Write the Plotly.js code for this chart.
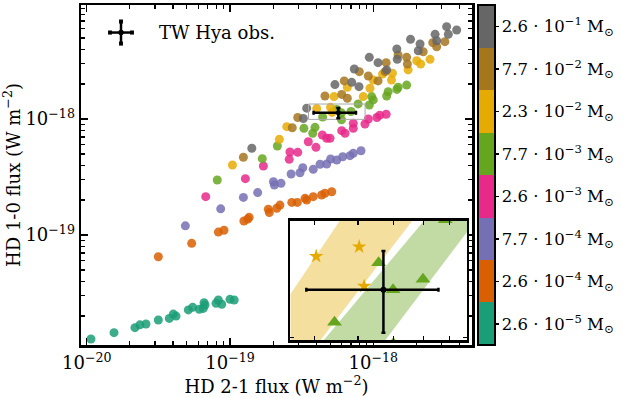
<!DOCTYPE html>
<html>
<head>
<meta charset="utf-8">
<script src="https://cdn.plot.ly/plotly-3.0.1.min.js"></script>
<style>
  html, body { margin: 0; padding: 0; background: white; }
  #myDiv { width: 623px; height: 398px; }
</style>
</head>
<body>
<div id="myDiv"></div>
<script>
// HD 2-1 (x) and HD 1-0 (y) fluxes in W m^-2, one series per disk gas mass
var tealX = [1.07e-20, 1.55e-20, 2.17e-20, 2.35e-20, 2.59e-20, 3.16e-20, 3.77e-20, 4.02e-20, 4.20e-20, 5.12e-20, 5.49e-20, 6.11e-20, 6.51e-20, 6.59e-20, 6.69e-20, 7.99e-20, 8.29e-20, 8.75e-20, 1.00e-19, 1.07e-19];
var tealY = [1.27e-20, 1.44e-20, 1.59e-20, 1.68e-20, 1.71e-20, 1.85e-20, 1.91e-20, 2.08e-20, 2.00e-20, 2.26e-20, 2.38e-20, 2.29e-20, 2.33e-20, 2.61e-20, 2.49e-20, 2.58e-20, 2.75e-20, 2.53e-20, 2.79e-20, 2.75e-20];

var orangeX = [3.16e-20, 5.40e-20, 8.29e-20, 9.08e-20, 1.25e-19, 1.33e-19, 1.36e-19, 1.85e-19, 1.88e-19, 2.12e-19, 2.23e-19, 2.70e-19, 2.95e-19, 3.34e-19, 3.43e-19, 3.81e-19, 4.36e-19, 4.60e-19, 5.13e-19];
var orangeY = [6.50e-20, 8.48e-20, 1.06e-19, 1.10e-19, 1.32e-19, 1.37e-19, 1.42e-19, 1.67e-19, 1.56e-19, 1.70e-19, 1.81e-19, 1.91e-19, 1.91e-19, 2.07e-19, 2.00e-19, 2.14e-19, 2.21e-19, 2.29e-19, 2.36e-19];

var purpleX = [4.88e-20, 8.61e-20, 1.24e-19, 1.56e-19, 2.01e-19, 2.04e-19, 2.27e-19, 2.67e-19, 3.08e-19, 3.22e-19, 3.81e-19, 4.25e-19, 4.73e-19, 5.04e-19, 5.56e-19, 6.12e-19, 6.88e-19, 7.25e-19, 8.21e-19];
var purpleY = [1.20e-19, 1.68e-19, 2.11e-19, 2.32e-19, 2.88e-19, 2.70e-19, 2.79e-19, 3.36e-19, 3.44e-19, 3.80e-19, 3.68e-19, 4.07e-19, 4.09e-19, 4.52e-19, 4.43e-19, 4.73e-19, 4.83e-19, 5.06e-19, 5.33e-19];

var pinkX = [6.77e-20, 1.28e-19, 1.71e-19, 2.59e-19, 2.62e-19, 2.97e-19, 3.52e-19, 3.98e-19, 4.41e-19, 4.73e-19, 4.99e-19, 6.02e-19, 6.35e-19, 7.25e-19, 7.25e-19, 8.75e-19, 9.23e-19, 1.06e-18, 1.11e-18, 1.23e-18];
var pinkY = [2.14e-19, 3.06e-19, 3.93e-19, 4.49e-19, 5.19e-19, 5.16e-19, 6.37e-19, 5.70e-19, 7.28e-19, 6.82e-19, 6.82e-19, 7.93e-19, 7.53e-19, 8.31e-19, 9.18e-19, 9.05e-19, 1.00e-18, 1.03e-18, 1.08e-18, 1.10e-18];

var greenX = [8.15e-20, 1.68e-19, 2.14e-19, 3.28e-19, 3.78e-19, 3.92e-19, 4.43e-19, 5.56e-19, 5.99e-19, 6.00e-19, 6.99e-19, 7.84e-19, 9.38e-19, 9.74e-19, 1.00e-18, 1.24e-18, 1.27e-18, 1.46e-18, 1.49e-18, 1.71e-18];
var greenY = [2.98e-19, 4.55e-19, 5.85e-19, 8.31e-19, 7.53e-19, 8.48e-19, 1.04e-18, 1.21e-18, 1.13e-18, 9.85e-19, 1.16e-18, 1.35e-18, 1.32e-18, 1.56e-18, 1.46e-18, 1.58e-18, 1.72e-18, 1.80e-18, 1.88e-18, 1.96e-18];

var yellowX = [1.04e-19, 2.21e-19, 2.49e-19, 4.03e-19, 5.03e-19, 5.16e-19, 5.32e-19, 6.59e-19, 8.51e-19, 9.48e-19, 1.00e-18, 1.16e-18, 1.34e-18, 1.36e-18, 1.75e-18, 2.01e-18, 2.14e-18, 2.49e-18];
var yellowY = [4.01e-19, 6.68e-19, 8.59e-19, 1.23e-18, 1.26e-18, 1.14e-18, 1.56e-18, 1.88e-18, 1.56e-18, 1.84e-18, 2.17e-18, 2.44e-18, 2.17e-18, 2.48e-18, 2.65e-18, 3.18e-18, 2.98e-18, 3.27e-18];

var brownX = [1.24e-19, 2.72e-19, 2.97e-19, 4.60e-19, 6.27e-19, 6.02e-19, 6.59e-19, 7.99e-19, 9.23e-19, 1.08e-18, 1.23e-18, 1.21e-18, 1.49e-18, 1.71e-18, 1.73e-18, 2.23e-18, 2.60e-18, 3.16e-18, 2.77e-18];
var brownY = [4.68e-19, 8.41e-19, 1.03e-18, 1.58e-18, 2.13e-18, 1.63e-18, 1.51e-18, 2.56e-18, 2.35e-18, 2.13e-18, 3.06e-18, 2.56e-18, 3.56e-18, 3.40e-18, 2.98e-18, 3.80e-18, 4.55e-18, 4.64e-18, 4.20e-18];

var grayX = [1.42e-19, 3.25e-19, 3.43e-19, 5.40e-19, 7.07e-19, 7.95e-19, 7.37e-19, 9.38e-19, 1.08e-18, 1.24e-18, 1.46e-18, 1.47e-18, 1.82e-18, 2.06e-18, 2.12e-18, 2.70e-18, 2.77e-18, 3.25e-18, 3.34e-18, 3.82e-18];
var grayY = [5.59e-19, 1.01e-18, 1.24e-18, 1.98e-18, 2.07e-18, 1.90e-18, 2.70e-18, 3.40e-18, 3.06e-18, 2.65e-18, 4.01e-18, 3.27e-18, 4.86e-18, 3.88e-18, 4.43e-18, 5.37e-18, 4.73e-18, 6.25e-18, 5.37e-18, 5.85e-18];

var massLabels = ['2.6 · 10<sup>−5</sup> M<sub>⊙</sub>', '2.6 · 10<sup>−4</sup> M<sub>⊙</sub>',
                  '7.7 · 10<sup>−4</sup> M<sub>⊙</sub>', '2.6 · 10<sup>−3</sup> M<sub>⊙</sub>',
                  '7.7 · 10<sup>−3</sup> M<sub>⊙</sub>', '2.3 · 10<sup>−2</sup> M<sub>⊙</sub>',
                  '7.7 · 10<sup>−2</sup> M<sub>⊙</sub>', '2.6 · 10<sup>−1</sup> M<sub>⊙</sub>'];
var colors = ['#1b9e77', '#d95f02', '#7570b3', '#e7298a', '#66a61e', '#e6ab02', '#a6761d', '#666666'];

// TW Hya observation
var obsX = [5.7e-19], obsXErr = [1.87e-19];
var obsY = [1.13e-18], obsYErr = [1.17e-19];

// zoom window of the inset
var insetX = [3.53e-19, 8.77e-19];
var insetY = [9.93e-19, 1.346e-18];

// shaded bands in the inset
var bandY = [1.4e-18, 1.4e-18, 9.5e-19, 9.5e-19];
var yellowBandX = [4.80e-19, 7.03e-19, 3.84e-19, 2.83e-19];
var greenBandX = [7.51e-19, 9.73e-19, 5.37e-19, 3.88e-19];

var seriesX = [tealX, orangeX, purpleX, pinkX, greenX, yellowX, brownX, grayX];
var seriesY = [tealY, orangeY, purpleY, pinkY, greenY, yellowY, brownY, grayY];

var colorscale = [];
for (var i = 0; i < colors.length; i++) {
    colorscale.push([i / colors.length, colors[i]]);
    colorscale.push([(i + 1) / colors.length, colors[i]]);
}

var data = [];
for (var i = 0; i < seriesX.length; i++) {
    var tr = {
        x: seriesX[i],
        y: seriesY[i],
        mode: 'markers',
        type: 'scatter',
        marker: { size: 9, color: colors[i], opacity: 0.85, line: { width: 0 } },
        hoverinfo: 'skip'
    };
    if (i == seriesX.length - 1) {
        // colorbar rides on the last series
        tr.marker.color = seriesX[i].map(function () { return i + 0.5; });
        tr.marker.colorscale = colorscale;
        tr.marker.cmin = 0;
        tr.marker.cmax = colors.length;
        tr.marker.showscale = true;
        tr.marker.colorbar = {
            x: 1.016, xanchor: 'left', xpad: 0,
            y: 0.5, yanchor: 'middle', ypad: 0,
            len: 1, lenmode: 'fraction',
            thickness: 17, thicknessmode: 'pixels',
            outlinewidth: 2, outlinecolor: 'black',
            tickmode: 'array',
            tickvals: colors.map(function (c, k) { return k + 0.5; }),
            ticktext: massLabels,
            ticks: 'outside', ticklen: 3, tickwidth: 1.5, tickcolor: 'black',
            tickfont: { family: 'DejaVu Serif', size: 16.5, color: 'black' }
        };
    }
    data.push(tr);
}

// inset frame marker on the main plot
data.push({
    x: [insetX[0], insetX[1], insetX[1], insetX[0], insetX[0]],
    y: [insetY[0], insetY[0], insetY[1], insetY[1], insetY[0]],
    mode: 'lines', line: { color: '#a8a8a8', width: 1 }, hoverinfo: 'skip'
});

var errStyle = function (arr) {
    return { type: 'data', array: arr, color: 'black', thickness: 2.5, width: 2 };
};

data.push({
    x: obsX, y: obsY, mode: 'markers',
    marker: { color: 'black', size: 5 },
    error_x: errStyle(obsXErr), error_y: errStyle(obsYErr), hoverinfo: 'skip'
});

// inset traces
data.push({
    x: yellowBandX, y: bandY, xaxis: 'x2', yaxis: 'y2', mode: 'lines',
    fill: 'toself', fillcolor: 'rgba(230,171,2,0.38)', line: { width: 0 }, hoverinfo: 'skip'
});
data.push({
    x: greenBandX, y: bandY, xaxis: 'x2', yaxis: 'y2', mode: 'lines',
    fill: 'toself', fillcolor: 'rgba(102,166,30,0.4)', line: { width: 0 }, hoverinfo: 'skip'
});
data.push({
    x: yellowX, y: yellowY, xaxis: 'x2', yaxis: 'y2', mode: 'markers',
    marker: { symbol: 'star', size: 11, color: '#e6ab02', line: { width: 0 } }, hoverinfo: 'skip'
});
data.push({
    x: greenX, y: greenY, xaxis: 'x2', yaxis: 'y2', mode: 'markers',
    marker: { symbol: 'triangle-up', size: 13, color: '#66a61e', line: { width: 0 } }, hoverinfo: 'skip'
});
data.push({
    x: obsX, y: obsY, xaxis: 'x2', yaxis: 'y2', mode: 'markers',
    marker: { color: 'black', size: 6 },
    error_x: errStyle(obsXErr), error_y: errStyle(obsYErr), hoverinfo: 'skip'
});

function minorTicks(lo, hi) {
    var out = [];
    for (var e = lo; e <= hi; e++) {
        for (var m = 2; m <= 9; m++) out.push(m * Math.pow(10, e));
    }
    return out;
}

var axisBase = {
    type: 'log',
    showline: true, linewidth: 2.5, linecolor: 'black', mirror: 'ticks',
    ticks: 'inside', ticklen: 7, tickwidth: 1.5, tickcolor: 'black',
    showgrid: false, zeroline: false,
    tickfont: { size: 18 }
};

var layout = {
    width: 623, height: 398,
    margin: { l: 81, r: 151, t: 5, b: 53 },
    paper_bgcolor: 'white', plot_bgcolor: 'white',
    showlegend: false,
    font: { family: 'DejaVu Serif', size: 16, color: 'black' },
    xaxis: Object.assign({}, axisBase, {
        range: [-20.04, -17.311],
        tickmode: 'array',
        tickvals: [1e-20, 1e-19, 1e-18],
        ticktext: ['10<sup>−20</sup>', '10<sup>−19</sup>', '10<sup>−18</sup>'],
        minor: { tickmode: 'array', tickvals: minorTicks(-21, -18), ticks: 'inside', ticklen: 4, tickwidth: 1.2, tickcolor: 'black' },
        title: { text: 'HD 2-1 flux (W m<sup>−2</sup>)', font: { size: 18 }, standoff: 4 }
    }),
    yaxis: Object.assign({}, axisBase, {
        range: [-19.9483, -17.0172],
        tickmode: 'array',
        tickvals: [1e-20, 1e-19, 1e-18],
        ticktext: ['10<sup>−20</sup>', '10<sup>−19</sup>', '10<sup>−18</sup>'],
        minor: { tickmode: 'array', tickvals: minorTicks(-21, -18), ticks: 'inside', ticklen: 4, tickwidth: 1.2, tickcolor: 'black' },
        title: { text: 'HD 1-0 flux (W m<sup>−2</sup>)', font: { size: 18 }, standoff: 4 }
    }),
    xaxis2: {
        type: 'log', domain: [0.5358, 0.9872], anchor: 'y2',
        range: [Math.log10(insetX[0]), Math.log10(insetX[1])],
        showline: true, linewidth: 2.5, linecolor: 'black', mirror: 'ticks',
        ticks: 'inside', ticklen: 4, tickwidth: 1.2, tickcolor: 'black',
        tickmode: 'array', tickvals: [4e-19, 5e-19, 6e-19, 7e-19, 8e-19],
        showticklabels: false, showgrid: false, zeroline: false
    },
    yaxis2: {
        type: 'log', domain: [0.0133, 0.3652], anchor: 'x2',
        range: [Math.log10(insetY[0]), Math.log10(insetY[1])],
        showline: true, linewidth: 2.5, linecolor: 'black', mirror: 'ticks',
        ticks: 'inside', ticklen: 4, tickwidth: 1.2, tickcolor: 'black',
        tickmode: 'array', tickvals: [1e-18],
        showticklabels: false, showgrid: false, zeroline: false
    },
    // legend glyph for the observation
    shapes: [
        { type: 'line', xref: 'paper', yref: 'paper', x0: 0.0742, x1: 0.1304, y0: 0.919, y1: 0.919, line: { color: 'black', width: 2.5 } },
        { type: 'line', xref: 'paper', yref: 'paper', x0: 0.1023, x1: 0.1023, y0: 0.8866, y1: 0.9514, line: { color: 'black', width: 2.5 } },
        { type: 'rect', xref: 'paper', yref: 'paper', x0: 0.0692, x1: 0.0792, y0: 0.913, y1: 0.925, fillcolor: 'black', line: { width: 0 } },
        { type: 'rect', xref: 'paper', yref: 'paper', x0: 0.1254, x1: 0.1354, y0: 0.913, y1: 0.925, fillcolor: 'black', line: { width: 0 } },
        { type: 'rect', xref: 'paper', yref: 'paper', x0: 0.0973, x1: 0.1073, y0: 0.8806, y1: 0.8926, fillcolor: 'black', line: { width: 0 } },
        { type: 'rect', xref: 'paper', yref: 'paper', x0: 0.0973, x1: 0.1073, y0: 0.9454, y1: 0.9574, fillcolor: 'black', line: { width: 0 } },
        { type: 'circle', xref: 'paper', yref: 'paper', x0: 0.0953, x1: 0.1093, y0: 0.9108, y1: 0.9272, fillcolor: 'black', line: { width: 0 } }
    ],
    annotations: [
        { text: 'TW Hya obs.', xref: 'paper', yref: 'paper', x: 0.1944, y: 0.919,
          xanchor: 'left', yanchor: 'middle', showarrow: false, font: { size: 18 } }
    ]
};

var config = { displayModeBar: false, staticPlot: true };

Plotly.newPlot('myDiv', data, layout, config);
</script>
</body>
</html>
